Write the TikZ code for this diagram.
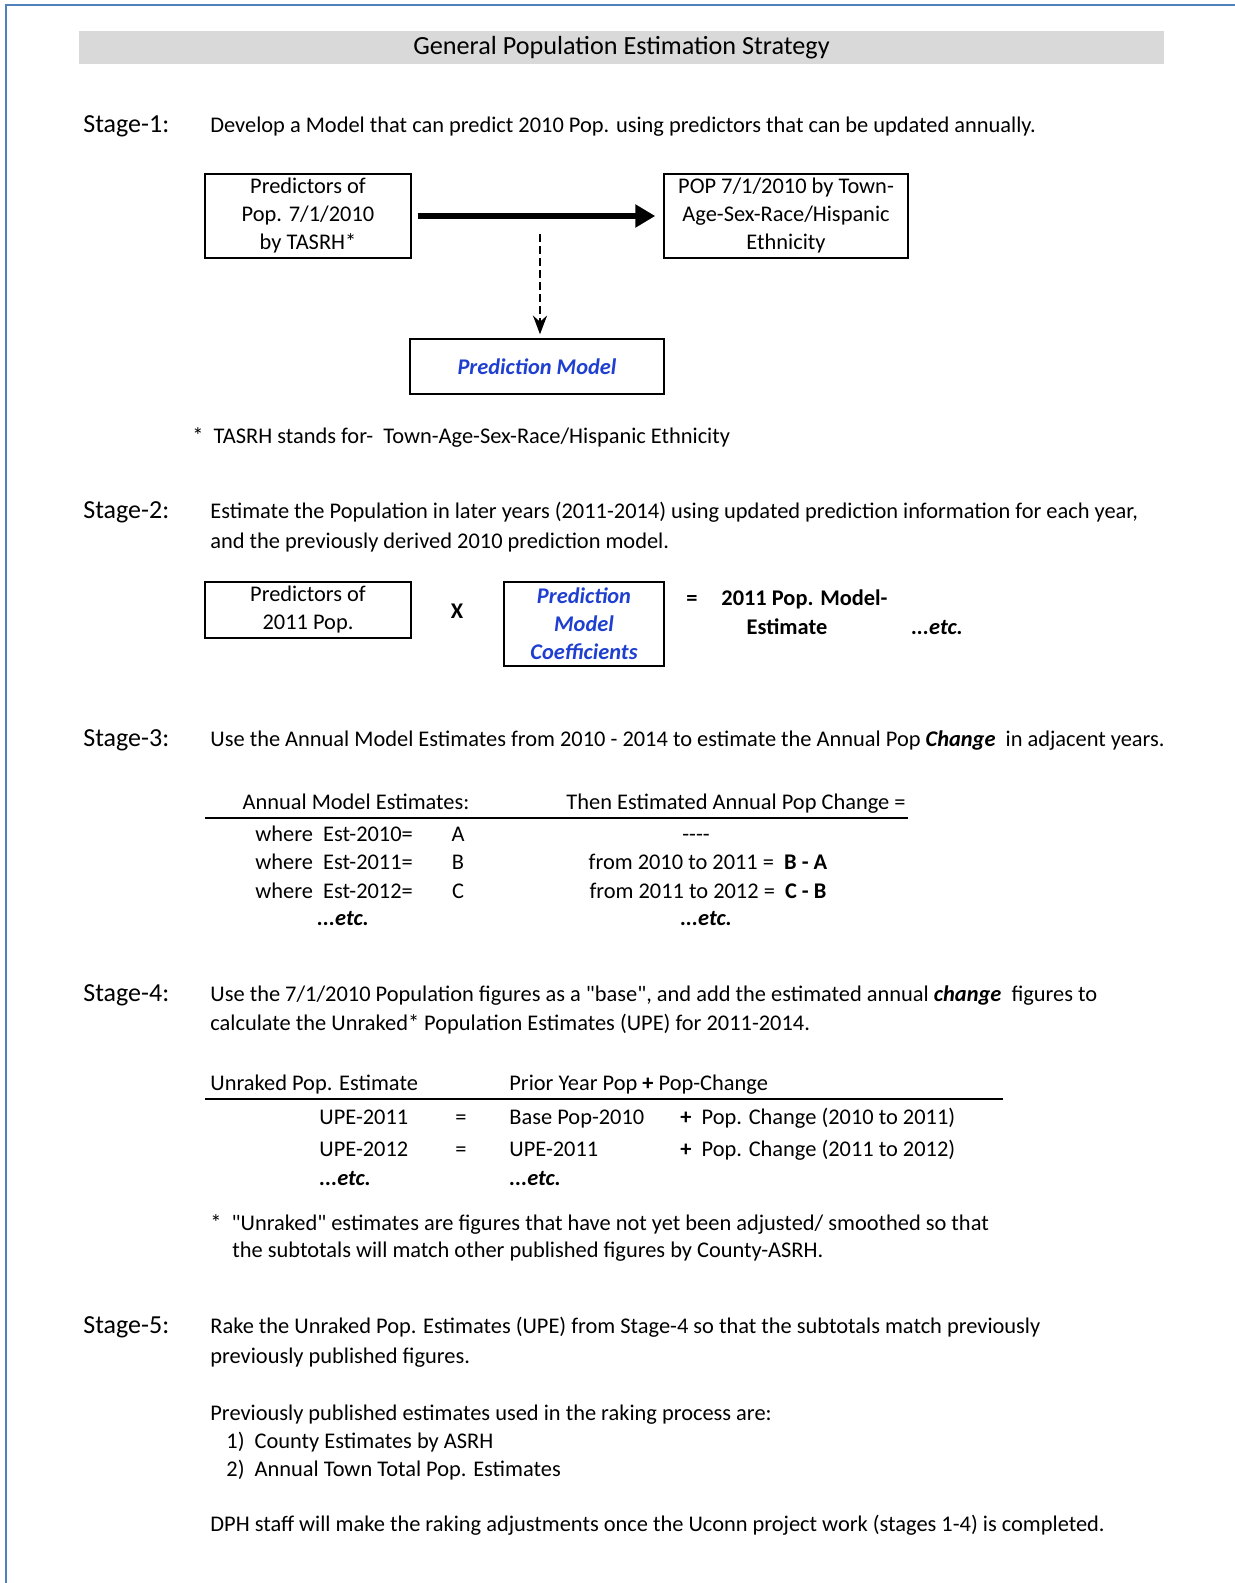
\documentclass[tikz,border=0pt]{standalone}
\usepackage{fontspec}
\newfontfamily\calfont{Carlito}
\usepackage{tikz}
\usetikzlibrary{arrows.meta}
\definecolor{frameblue}{HTML}{4F81BD}
\definecolor{predblue}{HTML}{1F3FD0}
\definecolor{bargray}{HTML}{D9D9D9}
\newcommand{\bodyfont}{\calfont\fontsize{11.2}{14}\selectfont}
\newcommand{\stagefont}{\calfont\fontsize{13}{15}\selectfont}
\newcommand{\bi}[1]{\textbf{\textit{#1}}}
\tikzset{
  gp/.style={x=0.5pt, y=-0.5pt, >=Stealth, every node/.style={inner sep=0pt, font=\bodyfont}},
  cl/.style={text height=9pt, text depth=2pt},
  lbl/.style={cl, anchor=west},
  stg/.style={lbl, font=\stagefont},
  pbox/.style={draw, line width=0.7pt, align=center},
  blu/.style={text=predblue, font=\bodyfont\bfseries\itshape},
  thk/.style={-{Triangle[length=10pt,width=11pt]}, line width=3pt, shorten <=3pt, shorten >=4pt},
  dlink/.style={->, line width=1.4pt, dash pattern=on 4pt off 2pt, shorten >=2pt},
  hrule/.style={line width=1pt}
}

\begin{document}
\begin{tikzpicture}[gp]
\useasboundingbox (0,0) rectangle (1235,1583);
\draw[frameblue, line width=1pt] (1235,5) -- (6,5) -- (6,1583);
\node[fill=bargray, minimum width=542.5pt, minimum height=16.5pt, font=\calfont\fontsize{13.1}{15}\selectfont] (title) at (621.5,47.5) {General Population Estimation Strategy};

% Stage 1
\node[stg] (s1) at (83,126) {Stage-1:};
\node[lbl] (t1) at (210,126) {Develop a Model that can predict 2010 Pop. using predictors that can be updated annually.};
\node[pbox, minimum width=103pt, minimum height=42pt] (pred) at (308,216) {Predictors of\\Pop. 7/1/2010\\by TASRH*};
\node[pbox, minimum width=122pt, minimum height=42pt] (pop) at (786,216) {POP 7/1/2010 by Town-\\Age-Sex-Race/Hispanic\\Ethnicity};
\node[pbox, blu, minimum width=127pt, minimum height=27.5pt] (pm) at (537,366.5) {Prediction Model};
\draw[thk] (pred) -- (pop);
\coordinate (dtop) at (540,234);
\draw[dlink] (dtop) -- (dtop |- pm.north);
\node[lbl] (fn1) at (192,436) {*\ \ TASRH stands for-\ \ Town-Age-Sex-Race/Hispanic Ethnicity};

% Stage 2
\node[stg] (s2) at (83,511) {Stage-2:};
\node[lbl] (t2a) at (210,511) {Estimate the Population in later years (2011-2014) using updated prediction information for each year,};
\node[lbl] (t2b) at (210,541) {and the previously derived 2010 prediction model.};
\node[pbox, minimum width=103pt, minimum height=28pt] (pred2) at (308,610) {Predictors of\\2011 Pop.};
\node[cl, font=\bodyfont\bfseries] (times) at (457,611) {X};
\node[pbox, blu, minimum width=80pt, minimum height=42pt] (coef) at (584,624) {Prediction\\Model\\Coefficients};
\node[cl, font=\bodyfont\bfseries] (eq2) at (692,598) {=};
\node[lbl, font=\bodyfont\bfseries] (est2) at (721,598) {2011 Pop. Model-};
\node[cl, font=\bodyfont\bfseries] (est2b) at (787,627) {Estimate};
\node[cl] (etc2) at (937,627) {\bi{...etc.}};

% Stage 3
\node[stg] (s3) at (83,739) {Stage-3:};
\node[lbl] (t3) at (210,739) {Use the Annual Model Estimates from 2010 - 2014 to estimate the Annual Pop \bi{Change}\ \ in adjacent years.};
\node[cl] (h3a) at (356,802) {Annual Model Estimates:};
\node[cl] (h3b) at (736,802) {Then Estimated Annual Pop Change =};
\draw[hrule] (205,818) -- (908,818);
\foreach \yr/\ltr/\yy in {2010/A/834, 2011/B/862, 2012/C/891}{
  \node[lbl] (w\yr) at (255,\yy) {where\ \ Est-\yr=};
  \node[cl] (l\yr) at (458,\yy) {\ltr};
}
\node[cl] (d2010) at (696,834) {----};
\node[cl] (d2011) at (708,862) {from 2010 to 2011 =\ \ \textbf{B - A}};
\node[cl] (d2012) at (708,891) {from 2011 to 2012 =\ \ \textbf{C - B}};
\node[cl] (etc3a) at (343,918) {\bi{...etc.}};
\node[cl] (etc3b) at (706,918) {\bi{...etc.}};

% Stage 4
\node[stg] (s4) at (83,994) {Stage-4:};
\node[lbl] (t4a) at (210,994) {Use the 7/1/2010 Population figures as a "base", and add the estimated annual \bi{change}\ \ figures to};
\node[lbl] (t4b) at (210,1023) {calculate the Unraked* Population Estimates (UPE) for 2011-2014.};
\node[lbl] (h4a) at (210,1083) {Unraked Pop. Estimate};
\node[lbl] (h4b) at (509,1083) {Prior Year Pop \textbf{+} Pop-Change};
\draw[hrule] (205,1099) -- (1003,1099);
\node[lbl] (u2011) at (319,1117) {UPE-2011};
\node[cl] (q2011) at (461,1117) {=};
\node[lbl] (b2011) at (509,1117) {Base Pop-2010};
\node[lbl] (c2011) at (680,1117) {\textbf{+}\ \ Pop. Change (2010 to 2011)};
\node[lbl] (u2012) at (319,1149) {UPE-2012};
\node[cl] (q2012) at (461,1149) {=};
\node[lbl] (b2012) at (509,1149) {UPE-2011};
\node[lbl] (c2012) at (680,1149) {\textbf{+}\ \ Pop. Change (2011 to 2012)};
\node[lbl] (etc4a) at (319,1178) {\bi{...etc.}};
\node[lbl] (etc4b) at (509,1178) {\bi{...etc.}};
\node[lbl] (fn2a) at (210,1223) {*\ \ "Unraked" estimates are figures that have not yet been adjusted/ smoothed so that};
\node[lbl] (fn2b) at (232,1250) {the subtotals will match other published figures by County-ASRH.};

% Stage 5
\node[stg] (s5) at (83,1326) {Stage-5:};
\node[lbl] (t5a) at (210,1326) {Rake the Unraked Pop. Estimates (UPE) from Stage-4 so that the subtotals match previously};
\node[lbl] (t5b) at (210,1356) {previously published figures.};
\node[lbl] (t5c) at (210,1413) {Previously published estimates used in the raking process are:};
\node[lbl] (t5d) at (226,1441) {1)\ \ County Estimates by ASRH};
\node[lbl] (t5e) at (226,1469) {2)\ \ Annual Town Total Pop. Estimates};
\node[lbl] (t5f) at (210,1524) {DPH staff will make the raking adjustments once the Uconn project work (stages 1-4) is completed.};
\end{tikzpicture}
\end{document}
